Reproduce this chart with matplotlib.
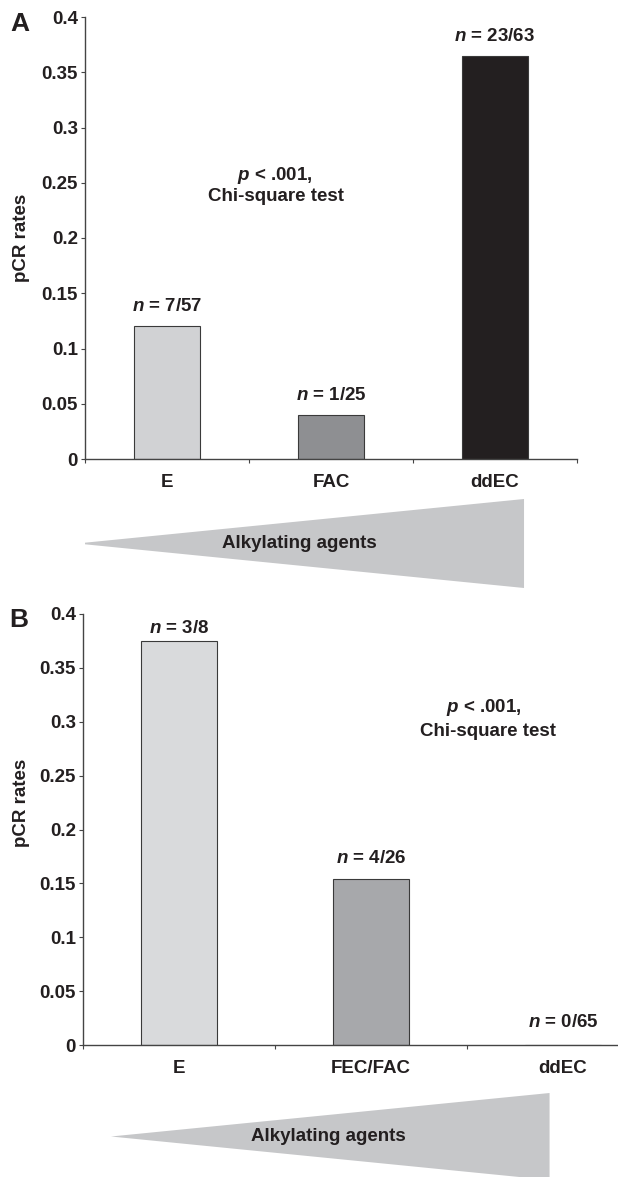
import numpy as np
import matplotlib
matplotlib.use("Agg")
import matplotlib.pyplot as plt
from matplotlib.patches import Polygon

plt.rcParams['font.family'] = ['Liberation Sans', 'DejaVu Sans']
plt.rcParams['font.weight'] = 'bold'
plt.rcParams['mathtext.fontset'] = 'custom'
plt.rcParams['mathtext.it'] = 'Liberation Sans:italic:bold'
plt.rcParams['mathtext.rm'] = 'Liberation Sans:bold'

# panel A
cats_a = ["E", "FAC", "ddEC"]
rates_a = [0.12, 0.04, 0.365]
counts_a = ["7/57", "1/25", "23/63"]
colors_a = ["#d1d2d4", "#8e8f92", "#231f20"]

# panel B
cats_b = ["E", "FEC/FAC", "ddEC"]
rates_b = [0.375, 0.154, 0.0]
counts_b = ["3/8", "4/26", "0/65"]
colors_b = ["#d9dadc", "#a7a8ab", "#ffffff"]

yticks = [0, 0.05, 0.1, 0.15, 0.2, 0.25, 0.3, 0.35, 0.4]

TXT = "#231f20"
FS = 13.5
W, H = 618, 1177

fig = plt.figure(figsize=(W / 100, H / 100), dpi=100)


def px_axes(left, right, top, bottom):
    return fig.add_axes([left / W, 1 - bottom / H, (right - left) / W, (bottom - top) / H])


def draw_panel(ax, cats, rates, counts, colors, offsets):
    x = np.arange(len(cats))
    ax.bar(x, rates, width=0.4, color=colors, edgecolor="#3a3a3a", linewidth=0.8)
    for xi, r, c, off in zip(x, rates, counts, offsets):
        ax.annotate(r"$\mathit{n}$ = " + c, (xi, r), xytext=(0, off), textcoords="offset points",
                    ha="center", va="center", fontsize=FS, color=TXT)
    ax.set_xlim(-0.5, 2.5)
    ax.set_ylim(0, 0.4)
    ax.set_yticks(yticks)
    ax.set_yticklabels([f"{v:g}" for v in yticks])
    ax.set_xticks(x)
    ax.set_xticklabels(cats)
    ax.set_xticks(np.arange(len(cats) + 1) - 0.5, minor=True)
    ax.tick_params(axis="x", which="major", length=0, pad=11, labelsize=FS, labelcolor=TXT)
    ax.tick_params(axis="x", which="minor", length=3, width=0.8, color="#444444", direction="out")
    ax.tick_params(axis="y", length=3, width=0.8, color="#444444", pad=2, labelsize=FS, labelcolor=TXT)
    for s in ["top", "right"]:
        ax.spines[s].set_visible(False)
    for s in ["left", "bottom"]:
        ax.spines[s].set_color("#444444")
        ax.spines[s].set_linewidth(1.0)
    ax.patch.set_alpha(0)


def draw_wedge(ax, tip, right, label_x):
    ax.set_xlim(-0.5, 2.5)
    ax.set_ylim(-1, 1)
    ax.axis("off")
    ax.add_patch(Polygon([(tip, 0), (right, 1), (right, -1)], closed=True,
                         facecolor="#c6c7c9", edgecolor="none"))
    ax.text(label_x, 0, "Alkylating agents", ha="center", va="center", fontsize=FS, color=TXT)


# ---- A ----
ax_a = px_axes(85, 577, 17, 459)
draw_panel(ax_a, cats_a, rates_a, counts_a, colors_a, [14, 14, 14])
ax_a.text(0.655, 0.257, r"$\mathit{p}$ < .001,", ha="center", va="center", fontsize=FS, color=TXT)
ax_a.text(0.665, 0.238, "Chi-square test", ha="center", va="center", fontsize=FS, color=TXT)
fig.text(10 / W, 1 - 24 / H, "A", fontsize=19, color=TXT, va="center")
fig.text(22 / W, 1 - 238 / H, "pCR rates", rotation=90, ha="center", va="center", fontsize=FS, color=TXT)

tri_a = px_axes(85, 577, 499, 588)
draw_wedge(tri_a, -0.549, 2.177, 0.805)

# ---- B ----
ax_b = px_axes(83, 659, 614, 1045)
draw_panel(ax_b, cats_b, rates_b, counts_b, colors_b, [9, 15, 16])
ax_b.text(1.59, 0.313, r"$\mathit{p}$ < .001,", ha="center", va="center", fontsize=FS, color=TXT)
ax_b.text(1.61, 0.291, "Chi-square test", ha="center", va="center", fontsize=FS, color=TXT)
fig.text(9 / W, 1 - 620 / H, "B", fontsize=19, color=TXT, va="center")
fig.text(22 / W, 1 - 803 / H, "pCR rates", rotation=90, ha="center", va="center", fontsize=FS, color=TXT)

tri_b = px_axes(83, 659, 1093, 1180)
draw_wedge(tri_b, -0.354, 1.93, 0.78)

fig.savefig("out.png", dpi=100)
